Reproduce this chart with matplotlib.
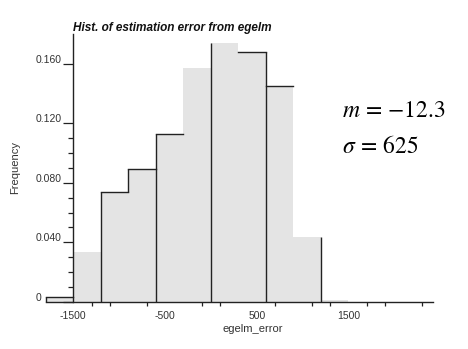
import matplotlib
matplotlib.use("Agg")
import matplotlib.pyplot as plt
import matplotlib.transforms as mtransforms
import numpy as np

# histogram of egelm_error (bin width 300), relative frequencies
bin_edges = [-1800, -1500, -1200, -900, -600, -300, 0, 300, 600, 900, 1200, 1500]
freq = [0.0034, 0.0337, 0.0739, 0.0890, 0.1128, 0.1575, 0.1740, 0.1680, 0.1450, 0.0435, 0.0010]

# the exported chart only kept some of the bar outlines
outlined_top = [True, False, True, True, True, False, False, True, True, False, False]
full_edges = [-1800, -1200, -600, 0, 600, 1200]

xtick_vals = [-1500, -500, 500, 1500]
xtick_labels = ["-1500", "-500", "500", "1500"]
xminor_vals = [-1300, -1100, -700, -500, -100, 100, 500, 700, 1100, 1300, 1700, 1900, 2300]
ytick_vals = [0, 0.04, 0.08, 0.12, 0.16]
ytick_labels = ["0", "0.040", "0.080", "0.120", "0.160"]
yminor_vals = [0.01, 0.02, 0.03, 0.05, 0.06, 0.07, 0.09, 0.10, 0.11]

mean_err = -12.3
std_err = 625

plt.rcParams['font.family'] = ['Liberation Sans', 'DejaVu Sans']
plt.rcParams['mathtext.fontset'] = 'stix'

fill_c = '#e4e4e4'
line_c = '#222222'
text_c = '#333333'

W, H = 468.0, 349.0
fig = plt.figure(figsize=(W / 100, H / 100), dpi=100)
ax = fig.add_axes([45.8 / W, 1 - 301.8 / H, 387 / W, 267.75 / H])

lefts = bin_edges[:-1]
widths = np.diff(bin_edges)
ax.bar(lefts, freq, width=widths, align='edge', color=fill_c, linewidth=0, zorder=1)

# partial black outline
for i, h in enumerate(freq):
    if outlined_top[i]:
        ax.plot([bin_edges[i], bin_edges[i + 1]], [h, h], color=line_c, lw=1.0,
                solid_capstyle='projecting', clip_on=False, zorder=3)
n = len(freq)
for i, e in enumerate(bin_edges):
    left_h = freq[i - 1] if i > 0 else 0
    right_h = freq[i] if i < n else 0
    if e in full_edges:
        ax.vlines(e, 0, max(left_h, right_h), color=line_c, lw=1.0, clip_on=False, zorder=3)
    elif 0 < i < n and outlined_top[i - 1] and outlined_top[i]:
        ax.vlines(e, min(left_h, right_h), max(left_h, right_h), color=line_c, lw=1.0,
                  clip_on=False, zorder=3)

ax.set_xlim(-1800, 2420)
ax.set_ylim(0, 0.18)

for s in ['top', 'right']:
    ax.spines[s].set_visible(False)
ax.spines['left'].set_position(('data', -1500))
for s in ['left', 'bottom']:
    ax.spines[s].set_color(line_c)
    ax.spines[s].set_linewidth(1.0)
    ax.spines[s].set_zorder(4)

ax.set_xticks(xtick_vals, xtick_labels)
ax.set_xticks(xminor_vals, minor=True)
ax.tick_params(axis='x', which='major', length=0, pad=6.5, labelsize=7.5, labelcolor=text_c)
ax.tick_params(axis='x', which='minor', length=3, width=0.9, color=line_c, direction='out')

ax.set_yticks(ytick_vals, ytick_labels)
ax.set_yticks(yminor_vals, minor=True)
ax.tick_params(axis='y', which='major', length=7.2, width=0.9, color=line_c, pad=1,
               labelsize=7.5, labelcolor=text_c)
ax.tick_params(axis='y', which='minor', length=3.6, width=0.9, color=line_c)
# labels are left aligned at a common x, a bit above their tick
shift = mtransforms.ScaledTranslation(-26 / 100, 5 / 100, fig.dpi_scale_trans)
for lbl in ax.get_yticklabels():
    lbl.set_horizontalalignment('left')
    lbl.set_transform(lbl.get_transform() + shift)

trans = mtransforms.blended_transform_factory(ax.transData, ax.transAxes)
ax.text(-1500, 1.0, "Hist. of estimation error from egelm", transform=trans,
        fontsize=8.5, fontstyle='italic', fontweight='bold', color='#111111',
        ha='left', va='bottom')

fig.text(253 / W, 1 - 329 / H, "egelm_error", ha='center', va='center',
         fontsize=8, color=text_c)
fig.text(15 / W, 1 - 167.5 / H, "Frequency", rotation=90, ha='center', va='center',
         fontsize=8, color=text_c)

fig.text(341.7 / W, 1 - 116.7 / H, r"$m\,=\,{%s}$" % mean_err, fontsize=17,
         ha='left', va='baseline', color='black')
fig.text(341.7 / W, 1 - 153.3 / H, r"$\sigma\,=\,%s$" % std_err, fontsize=17,
         ha='left', va='baseline', color='black')

fig.savefig("out.png", dpi=100, facecolor='white')
